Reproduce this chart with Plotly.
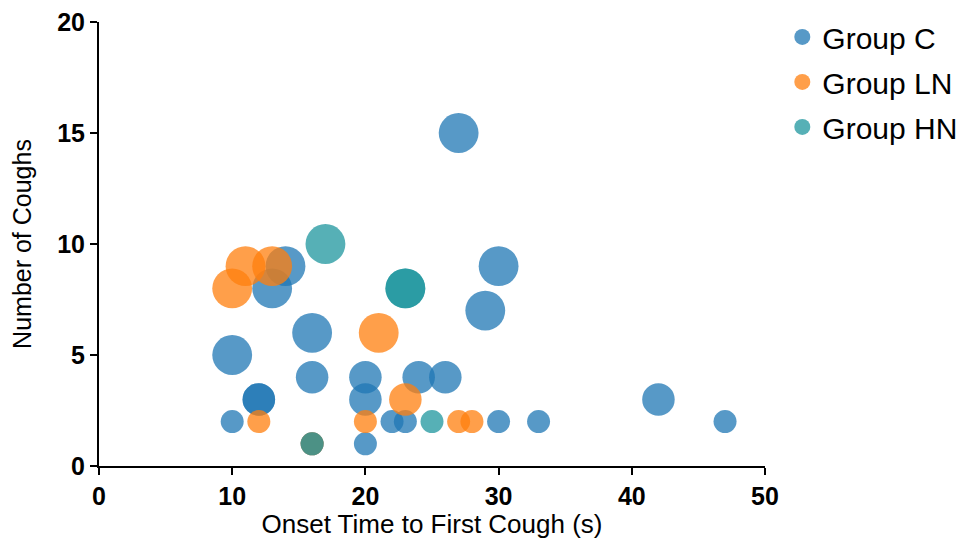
import plotly.graph_objects as go

# Group C
c_x = [27, 30, 29, 14, 13, 10, 16, 16, 20, 24, 26, 20, 12, 12, 42, 10, 22, 23, 30, 33, 47, 20, 16]
c_y = [15, 9, 7, 9, 8, 5, 6, 4, 4, 4, 4, 3, 3, 3, 3, 2, 2, 2, 2, 2, 2, 1, 1]
c_s = [3, 3, 3, 3, 3, 3, 3, 2, 2, 2, 2, 2, 2, 2, 2, 1, 1, 1, 1, 1, 1, 1, 1]

# Group LN
ln_x = [10, 11, 13, 21, 23, 12, 20, 27, 28, 16]
ln_y = [8, 9, 9, 6, 3, 2, 2, 2, 2, 1]
ln_s = [3, 3, 3, 3, 2, 1, 1, 1, 1, 1]

# Group HN
hn_x = [17, 23, 23, 25, 16]
hn_y = [10, 8, 8, 2, 1]
hn_s = [3, 3, 3, 1, 1]

groups = [
    ("Group C", c_x, c_y, c_s, "rgb(31,119,180)"),
    ("Group LN", ln_x, ln_y, ln_s, "rgb(255,127,14)"),
    ("Group HN", hn_x, hn_y, hn_s, "rgb(30,150,158)"),
]

fig = go.Figure()
for name, xs, ys, ss, col in groups:
    fig.add_trace(go.Scatter(
        x=xs, y=ys, mode="markers", name=name, showlegend=False,
        legendgroup=name,
        marker=dict(size=ss, sizemode="area", sizeref=2 / 529, color=col,
                    opacity=0.75, line=dict(width=0)),
    ))
# legend entries
for name, xs, ys, ss, col in groups:
    fig.add_trace(go.Scatter(
        x=[None], y=[None], mode="markers", name=name, legendgroup=name,
        marker=dict(size=16, color=col, opacity=0.75, line=dict(width=0)),
    ))

axis_common = dict(
    showline=True, linecolor="black", linewidth=2,
    ticks="outside", ticklen=7, tickwidth=2, tickcolor="black",
    showgrid=False, zeroline=False, automargin=False,
    ticklabeloverflow="allow",
    tickfont=dict(family="Liberation Sans, Arial", size=25, color="black", weight="bold"),
)

fig.update_layout(
    width=961, height=531,
    margin=dict(l=91, r=204, t=14, b=73, autoexpand=False),
    paper_bgcolor="white", plot_bgcolor="white",
    font=dict(family="Liberation Sans, Arial", color="black"),
    xaxis=dict(range=[0, 50], tickvals=[0, 10, 20, 30, 40, 50],
               title=dict(text="Onset Time to First Cough (s)", font=dict(size=26), standoff=10),
               **axis_common),
    yaxis=dict(range=[0, 20], tickvals=[0, 5, 10, 15, 20],
               title=dict(text="Number of Coughs", font=dict(size=25), standoff=22),
               **axis_common),
    legend=dict(x=1.026, y=1.025, xanchor="left", yanchor="top",
                font=dict(size=30, color="black"), itemsizing="trace",
                tracegroupgap=3, bgcolor="rgba(0,0,0,0)"),
    showlegend=True,
)

fig.write_html("out.html")
